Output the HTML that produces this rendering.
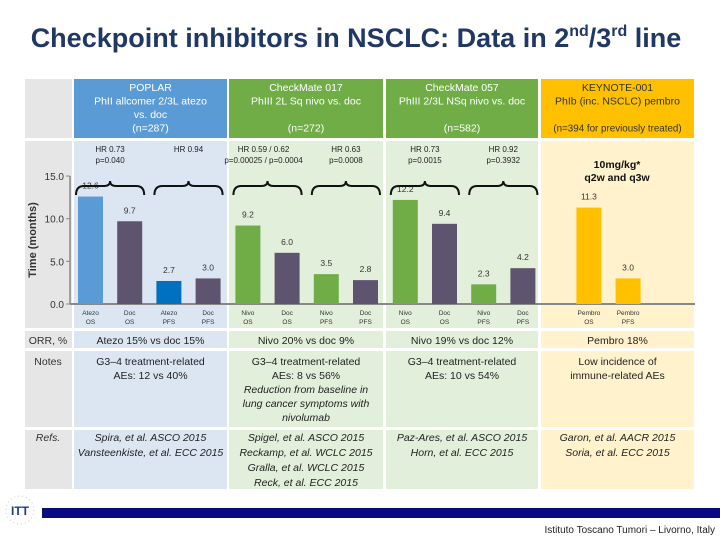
<!DOCTYPE html>
<html><head><meta charset="utf-8">
<style>
body{margin:0;width:720px;height:540px;overflow:hidden;background:#fff;font-family:"Liberation Sans",sans-serif;}
svg text{font-family:"Liberation Sans",sans-serif;}
</style></head><body>
<svg id="s" width="720" height="540" viewBox="0 0 720 540" xmlns="http://www.w3.org/2000/svg">
<text x="356" y="47" text-anchor="middle" font-size="27" font-weight="bold" fill="#1f3864">Checkpoint inhibitors in NSCLC: Data in 2<tspan font-size="16" dy="-11">nd</tspan><tspan dy="11">/3</tspan><tspan font-size="16" dy="-11">rd</tspan><tspan dy="11"> line</tspan></text>
<rect x="25" y="79" width="47" height="59" fill="#e6e6e6"/>
<rect x="25" y="141" width="47" height="187" fill="#e6e6e6"/>
<rect x="25" y="331" width="47" height="17" fill="#e6e6e6"/>
<rect x="25" y="351" width="47" height="76" fill="#e6e6e6"/>
<rect x="25" y="430" width="47" height="59" fill="#e6e6e6"/>
<g id="cols"></g>
<g id="chart"></g>
<text x="48" y="344" text-anchor="middle" font-size="10.5" fill="#333">ORR, %</text>
<text x="48" y="365" text-anchor="middle" font-size="10.5" fill="#333">Notes</text>
<text x="48" y="441" text-anchor="middle" font-size="10.5" font-style="italic" fill="#333">Refs.</text>
<rect x="42" y="508" width="678" height="10" fill="#0a0a80"/>
<text x="715" y="533" text-anchor="end" font-size="10" fill="#222">Istituto Toscano Tumori – Livorno, Italy</text>
<g>
<circle cx="20" cy="510" r="14" fill="none" stroke="#ccc" stroke-dasharray="1 3"/>
<text x="20" y="515" text-anchor="middle" font-size="12" font-weight="bold" fill="#1f3c88">ITT</text>
</g>
</svg>
<script>
const NS="http://www.w3.org/2000/svg";
function mk(tag,attrs,parent,txt){const e=document.createElementNS(NS,tag);for(const k in attrs)e.setAttribute(k,attrs[k]);if(txt!==undefined)e.textContent=txt;parent.appendChild(e);return e;}
const cols=document.getElementById('cols'), chart=document.getElementById('chart');

const studyX=[74,229,386,541], studyW=[153,154,152,153];
const headCol=['#5b9bd5','#70ad47','#70ad47','#ffc000'];
const bodyCol=['#dce6f2','#e2efda','#e2efda','#fff2cc'];
const headTxtCol=['#fff','#fff','#fff','#333'];
const headLines=[['POPLAR','PhII allcomer 2/3L atezo','vs. doc','(n=287)'],['CheckMate 017','PhIII 2L Sq nivo vs. doc','','(n=272)'],['CheckMate 057','PhIII 2/3L NSq nivo vs. doc','','(n=582)'],['KEYNOTE-001','PhIb (inc. NSCLC) pembro','','(n=394 for previously treated)']];
const orr=['Atezo 15% vs doc 15%','Nivo 20% vs doc 9%','Nivo 19% vs doc 12%','Pembro 18%'];
const notes=[['G3–4 treatment-related','AEs: 12 vs 40%'],['G3–4 treatment-related','AEs: 8 vs 56%','*Reduction from baseline in','*lung cancer symptoms with','*nivolumab'],['G3–4 treatment-related','AEs: 10 vs 54%'],['Low incidence of','immune-related AEs']];
const refs=[['Spira, et al. ASCO 2015','Vansteenkiste, et al. ECC 2015'],['Spigel, et al. ASCO 2015','Reckamp, et al. WCLC 2015','Gralla, et al. WCLC 2015','Reck, et al. ECC 2015'],['Paz-Ares, et al. ASCO 2015','Horn, et al. ECC 2015'],['Garon, et al. AACR 2015','Soria, et al. ECC 2015']];
for(let i=0;i<4;i++){
  const x=studyX[i],w=studyW[i],cx=x+w/2;
  let r=mk('rect',{x:x,y:79,width:w,height:59,fill:headCol[i]},cols);
  
  
  headLines[i].forEach((t,j)=>{if(!t)return;let tt=mk('text',{x:cx,y:91+j*13.5,'text-anchor':'middle','font-size':(i==3&&j==3)?9.8:10.5,fill:headTxtCol[i]},cols,t);
    
    });
  [[141,187],[331,17],[351,76],[430,59]].forEach((p,k)=>{let b=mk('rect',{x:x,y:p[0],width:w,height:p[1],fill:bodyCol[i]},cols);
    
    });
  let o=mk('text',{x:cx,y:344,'text-anchor':'middle','font-size':10.5,fill:'#222'},cols,orr[i]);
  
  
  notes[i].forEach((t,j)=>{const it=t[0]=='*';let n=mk('text',{x:cx,y:365+j*14,'text-anchor':'middle','font-size':10.5,fill:'#222','font-style':it?'italic':'normal'},cols,it?t.slice(1):t);
    
    });
  refs[i].forEach((t,j)=>{let n=mk('text',{x:cx,y:441+j*15,'text-anchor':'middle','font-size':10.5,fill:'#222','font-style':'italic'},cols,t);
    
    });
}

const categories=['Atezo OS','Doc OS','Atezo PFS','Doc PFS','Nivo OS','Doc OS','Nivo PFS','Doc PFS','Nivo OS','Doc OS','Nivo PFS','Doc PFS','Pembro OS','Pembro PFS'];
const values=[12.6,9.7,2.7,3.0,9.2,6.0,3.5,2.8,12.2,9.4,2.3,4.2,11.3,3.0];
const valueLabels=['12.6','9.7','2.7','3.0','9.2','6.0','3.5','2.8','12.2','9.4','2.3','4.2','11.3','3.0'];
const barColors=['#5b9bd5','#5f5470','#0070c0','#5f5470','#70ad47','#5f5470','#70ad47','#5f5470','#70ad47','#5f5470','#70ad47','#5f5470','#ffc000','#ffc000'];
const yTicks=[0,5,10,15];
const yTickLabels=['0.0','5.0','10.0','15.0'];
const hrLabels=[['HR 0.73','p=0.040'],['HR 0.94',''],['HR 0.59 / 0.62','p=0.00025 / p=0.0004'],['HR 0.63','p=0.0008'],['HR 0.73','p=0.0015'],['HR 0.92','p=0.3932']];

const y0=304, pxPer=8.53;
function yScale(v){return y0-v*pxPer;}
function xScale(i){const slot=[0,1,2,3,4,5,6,7,8,9,10,11,13.0,14.0][i];const grp=Math.floor(Math.min(i,12)/4);return 78+slot*39.2+grp*0.6-(i>=12?13:0);}

let ax=mk('line',{x1:70,y1:yScale(15),x2:70,y2:y0,stroke:'#888','stroke-width':1.5},chart);


let bl=mk('line',{x1:70,y1:y0,x2:695,y2:y0,stroke:'#888','stroke-width':2},chart);


yTicks.forEach((t,k)=>{
  let l=mk('line',{x1:66,y1:yScale(t),x2:70,y2:yScale(t),stroke:'#888'},chart);
  
  
  let tx=mk('text',{x:64,y:yScale(t)+4,'text-anchor':'end','font-size':10,fill:'#333'},chart,yTickLabels[k]);
  
  
});
let yt=mk('text',{x:0,y:0,'text-anchor':'middle','font-size':11,'font-weight':'bold',fill:'#333',transform:'translate(36,240) rotate(-90)'},chart,'Time (months)');



values.forEach((v,i)=>{
  const x=xScale(i);
  let b=mk('rect',{x:x,y:yScale(v),width:25,height:v*pxPer,fill:barColors[i]},chart);
  
  
  let lb=mk('text',{x:x+12.5,y:yScale(v)-8,'text-anchor':'middle','font-size':8.5,fill:'#333'},chart,valueLabels[i]);
  
  
  const parts=categories[i].split(' ');
  parts.forEach((p,j)=>{let c=mk('text',{x:x+12.5,y:315+j*9,'text-anchor':'middle','font-size':6.5,fill:'#333'},chart,p);
    
    });
});
for(let k=0;k<6;k++){
  const xa=xScale(2*k)-2, xb=xScale(2*k+1)+27, m=(xa+xb)/2;
  let p=mk('path',{d:`M${xa},195 Q${xa},186 ${xa+8},186 L${m-6},186 Q${m},186 ${m},181 Q${m},186 ${m+6},186 L${xb-8},186 Q${xb},186 ${xb},195`,fill:'none',stroke:'#111','stroke-width':2},chart);
  
  
  hrLabels[k].forEach((t,j)=>{if(!t)return;let h=mk('text',{x:m+(k==2?-4:0),y:152+j*11,'text-anchor':'middle','font-size':8,fill:'#222'},chart,t);
    
    });
}
let d1=mk('text',{x:617,y:168,'text-anchor':'middle','font-size':10.5,'font-weight':'bold',fill:'#111'},chart,'10mg/kg*');


let d2=mk('text',{x:617,y:181,'text-anchor':'middle','font-size':10.5,'font-weight':'bold',fill:'#111'},chart,'q2w and q3w');


</script>
</body></html>
